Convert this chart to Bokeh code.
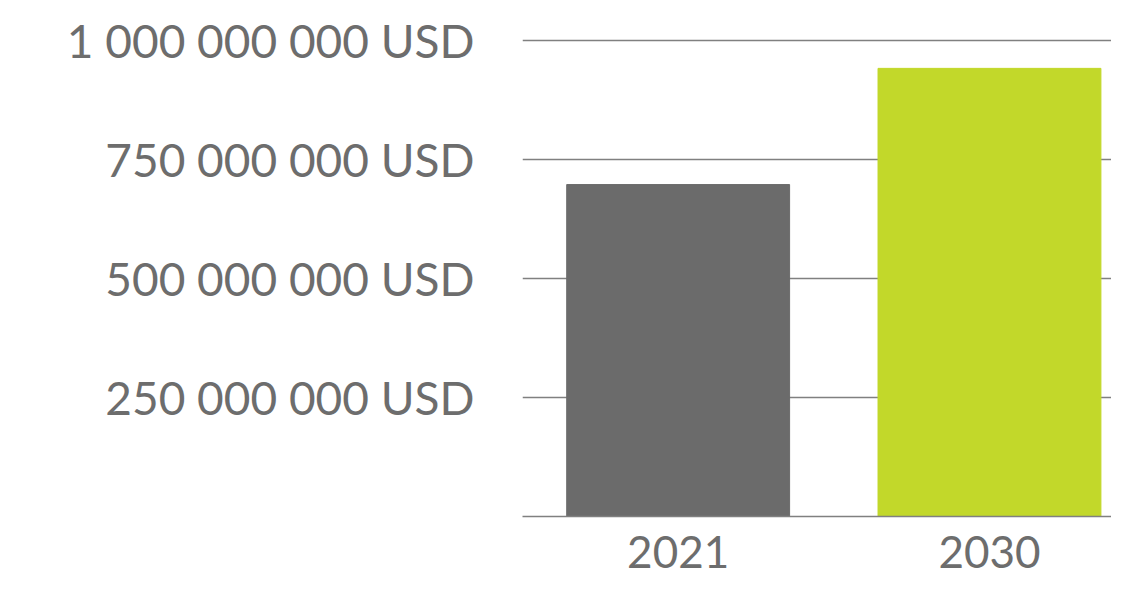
from bokeh.plotting import figure
from bokeh.models import Range1d, FixedTicker, ColumnDataSource
from bokeh.embed import file_html
from bokeh.resources import INLINE

years = ["2021", "2030"]
values = [697_000_000, 941_000_000]
colors = ["#6b6b6b", "#c2d82a"]
y_ticks = [250_000_000, 500_000_000, 750_000_000, 1_000_000_000]
y_tick_labels = ["250 000 000 USD", "500 000 000 USD", "750 000 000 USD", "1 000 000 000 USD"]

xs = [i + 0.5 for i in range(len(years))]
src = ColumnDataSource(dict(x=xs, top=values, color=colors, year=years))

p = figure(width=1111, height=577, output_backend="svg", toolbar_location=None,
           x_range=Range1d(0, 1.892), y_range=Range1d(0, 1_010_000_000),
           min_border_left=522, min_border_right=0, min_border_top=35, min_border_bottom=61)
p.outline_line_color = None
p.background_fill_color = "white"
p.border_fill_color = "white"

p.vbar(x="x", top="top", bottom=0, width=0.716, color="color", source=src)

FONT = "Lato"
TXT = "#6d6d6d"

p.yaxis.ticker = FixedTicker(ticks=y_ticks)
p.yaxis.major_label_overrides = {t: l for t, l in zip(y_ticks, y_tick_labels)}
p.yaxis.axis_line_color = None
p.yaxis.major_tick_line_color = None
p.yaxis.minor_tick_line_color = None
p.yaxis.major_label_text_font = FONT
p.yaxis.major_label_text_font_size = "46px"
p.yaxis.major_label_text_color = TXT
p.yaxis.major_label_standoff = 42

p.xaxis.ticker = FixedTicker(ticks=xs)
p.xaxis.major_label_overrides = {x: y for x, y in zip(xs, years)}
p.xaxis.axis_line_color = "#808080"
p.xaxis.axis_line_width = 1.5
p.xaxis.major_tick_line_color = None
p.xaxis.minor_tick_line_color = None
p.xaxis.major_label_text_font = FONT
p.xaxis.major_label_text_font_size = "44px"
p.xaxis.major_label_text_color = TXT
p.xaxis.major_label_text_line_height = 0.7
p.xaxis.major_label_standoff = 13

p.xgrid.grid_line_color = None
p.ygrid.grid_line_color = "#808080"
p.ygrid.grid_line_width = 1.5
p.ygrid.level = "underlay"

open("out.html", "w").write(file_html(p, INLINE))
